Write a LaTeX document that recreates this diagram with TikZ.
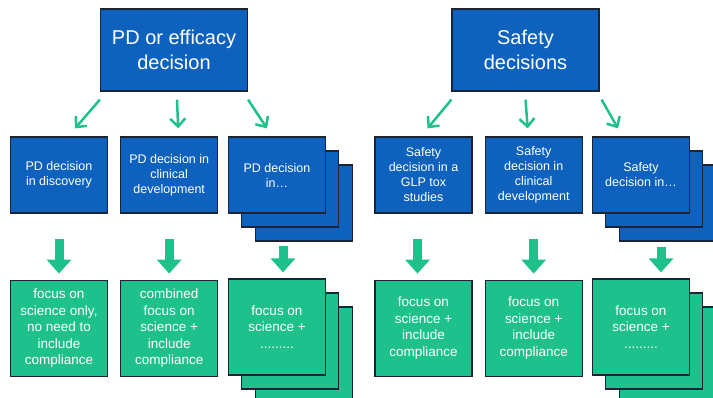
\documentclass[tikz,border=0pt]{standalone}
\usepackage{fontspec}
\setmainfont{Liberation Sans}
\usetikzlibrary{arrows.meta,positioning}
\definecolor{decblue}{RGB}{14,98,190}
\definecolor{focusgreen}{RGB}{30,192,140}
\definecolor{rim}{RGB}{26,36,52}
\begin{document}
\begin{tikzpicture}[x=1pt,y=-1pt,
    topbox/.style={draw=rim,line width=1.2pt,fill=decblue,text=white,align=center,
      minimum width=147pt,minimum height=82pt,inner sep=0pt,font=\fontsize{20}{25}\selectfont},
    dec/.style={draw=rim,line width=1.2pt,fill=decblue,text=white,align=center,
      minimum width=97pt,minimum height=76pt,inner sep=0pt,font=\fontsize{12.5}{15}\selectfont},
    focus/.style={draw=rim,line width=1.2pt,fill=focusgreen,text=white,align=center,
      minimum width=97pt,minimum height=96pt,inner sep=0pt,font=\fontsize{13.5}{16.5}\selectfont},
    link/.style={draw=focusgreen,line width=2.5pt,-{Straight Barb[length=8pt,width=15pt]}},
    bigarrow/.style={draw=focusgreen,line width=9pt,-{Triangle[length=14pt,width=24pt]}}]
  \useasboundingbox (0,0) rectangle (713,397);
  \clip (0,0) rectangle (713,397);

  % PD / efficacy branch
  \node[topbox] (pd)   at (174,50)  {PD or efficacy\\decision};
  \node[dec]    (pd1)  at (59,175)  {PD decision\\in discovery};
  \node[dec]    (pd2)  [right=12pt of pd1] {PD decision in\\clinical\\development};
  \node[dec]    (pd3c) at (304,203) {};
  \node[dec]    (pd3b) at (290,189) {};
  \node[dec]    (pd3)  at (277,175) {PD decision\\in…};

  \node[focus]  (fs1)  [below=66pt of pd1] {focus on\\science only,\\no need to\\include\\compliance};
  \node[focus]  (fs2)  [below=66pt of pd2] {combined\\focus on\\science +\\include\\compliance};
  \node[focus]  (fs3c) at (304,355) {};
  \node[focus]  (fs3b) at (290,341) {};
  \node[focus]  (fs3)  at (277,327) {focus on\\science +\\.........};

  % safety branch
  \node[topbox] (sf)   at (525.5,50) {Safety\\decisions};
  \node[dec]    (sf1)  at (423.5,175) {Safety\\decision in a\\GLP tox\\studies};
  \node[dec]    (sf2)  [right=12pt of sf1] {Safety\\decision in\\clinical\\development};
  \node[dec]    (sf3c) at (668,203) {};
  \node[dec]    (sf3b) at (654,189) {};
  \node[dec]    (sf3)  at (641,175) {Safety\\decision in…};

  \node[focus]  (fs4)  [below=66pt of sf1] {focus on\\science +\\include\\compliance};
  \node[focus]  (fs5)  [below=66pt of sf2] {focus on\\science +\\include\\compliance};
  \node[focus]  (fs6c) at (668,355) {};
  \node[focus]  (fs6b) at (654,341) {};
  \node[focus]  (fs6)  at (641,327) {focus on\\science +\\.........};

  % thin arrows
  \draw[link] ([yshift=-8pt]pd.south west) -- ([xshift=16pt,yshift=8pt]pd1.north);
  \draw[link] ([xshift=3pt,yshift=-8pt]pd.south) -- ([xshift=9pt,yshift=8pt]pd2.north);
  \draw[link] ([yshift=-8pt]pd.south east) -- ([xshift=-10pt,yshift=8pt]pd3.north);
  \draw[link] ([yshift=-8pt]sf.south west) -- ([xshift=4pt,yshift=8pt]sf1.north);
  \draw[link] ([yshift=-8pt]sf.south) -- ([xshift=-6pt,yshift=8pt]sf2.north);
  \draw[link] ([xshift=2pt,yshift=-8pt]sf.south east) -- ([xshift=-23pt,yshift=8pt]sf3.north);

  % block arrows
  \draw[bigarrow] ([yshift=-25pt]pd1.south) -- ([yshift=6pt]fs1.north);
  \draw[bigarrow] ([yshift=-25pt]pd2.south) -- ([yshift=6pt]fs2.north);
  \draw[bigarrow] ([xshift=6pt,yshift=-32pt]pd3.south) -- ([xshift=6pt,yshift=6pt]fs3.north);
  \draw[bigarrow] ([xshift=-6pt,yshift=-25pt]sf1.south) -- ([xshift=-6pt,yshift=6pt]fs4.north);
  \draw[bigarrow] ([yshift=-25pt]sf2.south) -- ([yshift=6pt]fs5.north);
  \draw[bigarrow] ([xshift=20pt,yshift=-33pt]sf3.south) -- ([xshift=20pt,yshift=6pt]fs6.north);
\end{tikzpicture}
\end{document}
